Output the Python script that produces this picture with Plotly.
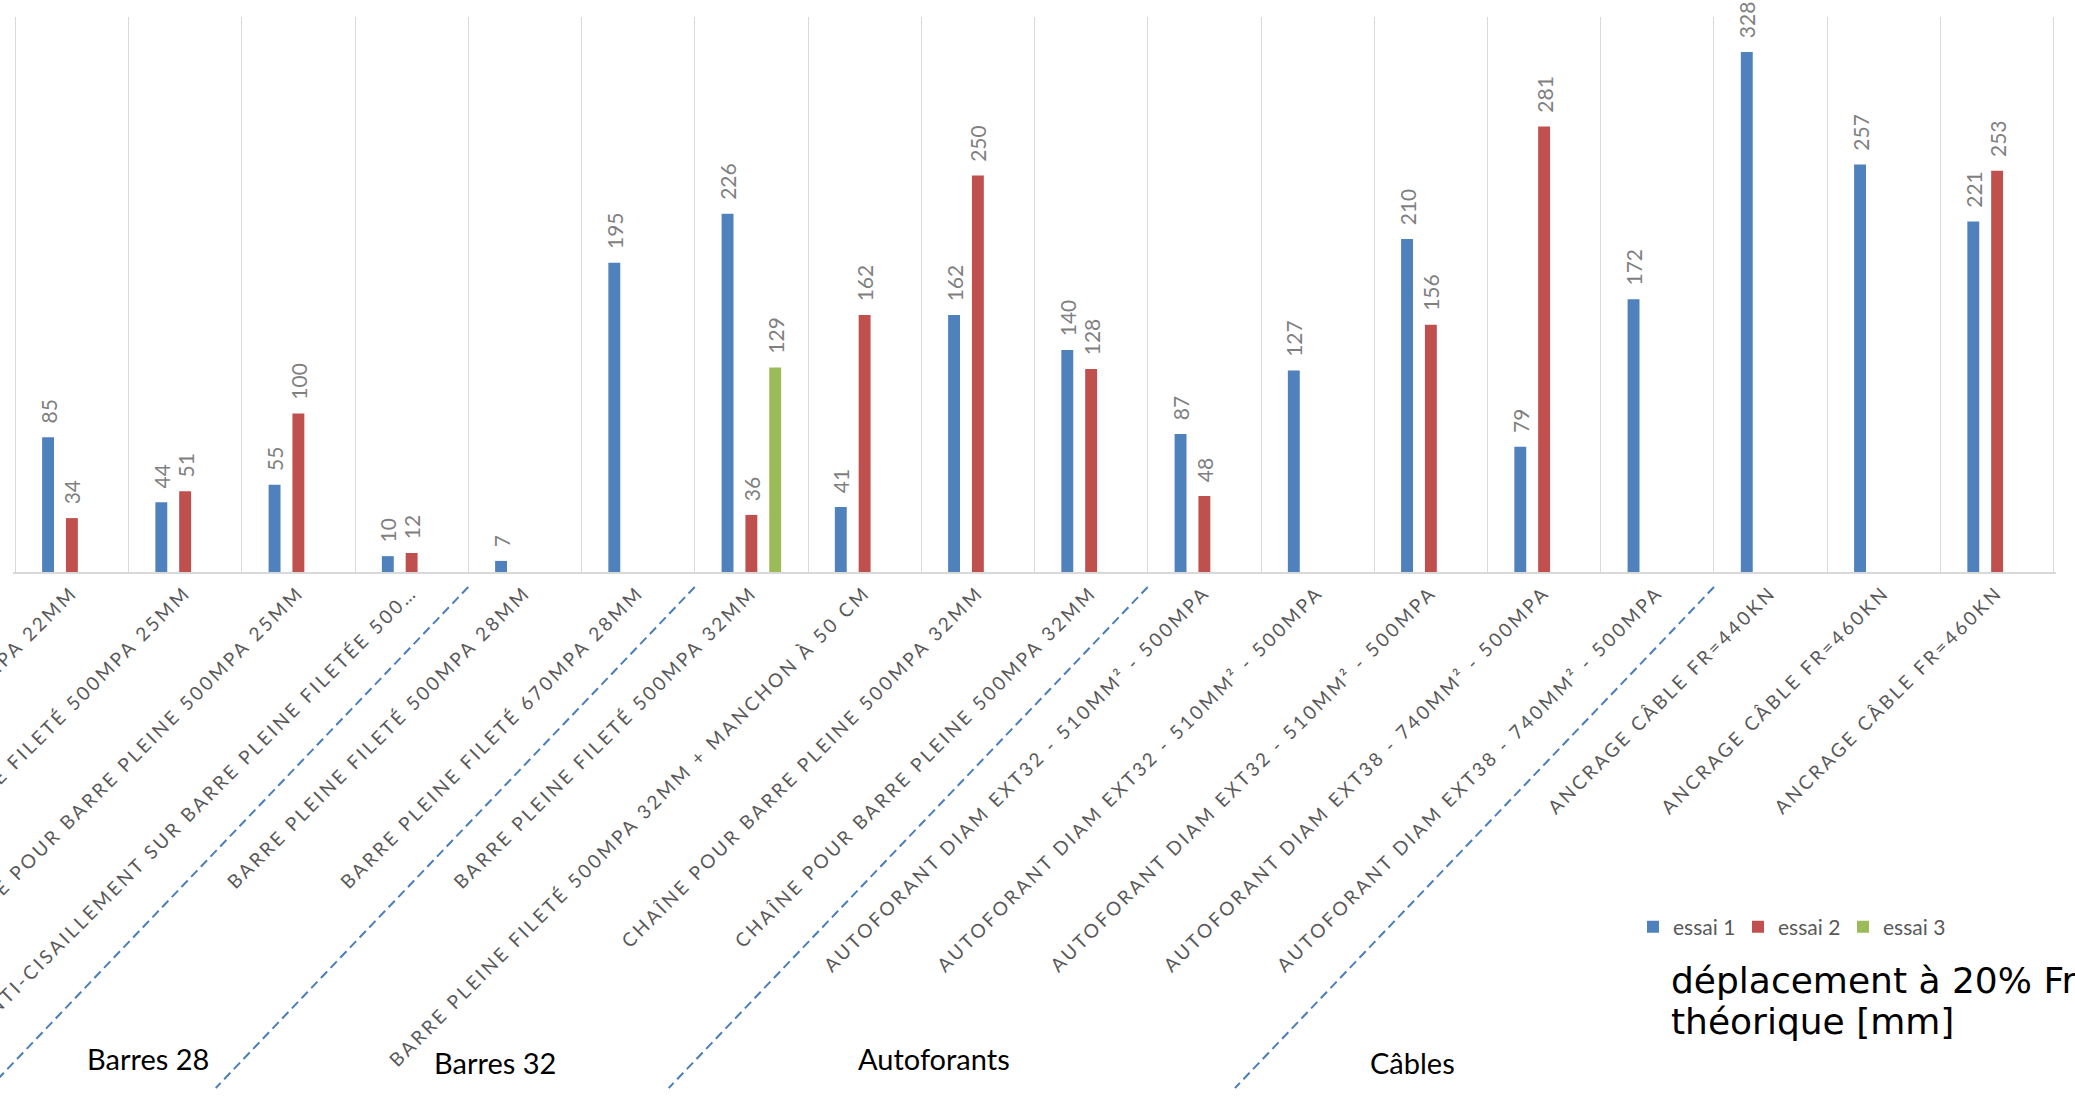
import plotly.graph_objects as go

# ---------------- data ----------------
categories = [
    "BARRE PLEINE FILETÉ 500MPA 22MM",
    "BARRE PLEINE FILETÉ 500MPA 25MM",
    "CHAÎNE POUR BARRE PLEINE 500MPA 25MM",
    "ANTI-CISAILLEMENT SUR BARRE PLEINE FILETÉE 500…",
    "BARRE PLEINE FILETÉ 500MPA 28MM",
    "BARRE PLEINE FILETÉ 670MPA 28MM",
    "BARRE PLEINE FILETÉ 500MPA 32MM",
    "BARRE PLEINE FILETÉ 500MPA 32MM + MANCHON À 50 CM",
    "CHAÎNE POUR BARRE PLEINE 500MPA 32MM",
    "CHAÎNE POUR BARRE PLEINE 500MPA 32MM",
    "AUTOFORANT DIAM EXT32 - 510MM² - 500MPA",
    "AUTOFORANT DIAM EXT32 - 510MM² - 500MPA",
    "AUTOFORANT DIAM EXT32 - 510MM² - 500MPA",
    "AUTOFORANT DIAM EXT38 - 740MM² - 500MPA",
    "AUTOFORANT DIAM EXT38 - 740MM² - 500MPA",
    "ANCRAGE CÂBLE FR=440KN",
    "ANCRAGE CÂBLE FR=460KN",
    "ANCRAGE CÂBLE FR=460KN",
]
essai1 = [85, 44, 55, 10, 7, 195, 226, 41, 162, 140, 87, 127, 210, 79, 172, 328, 257, 221]
essai2 = [34, 51, 100, 12, None, None, 36, 162, 250, 128, 48, None, 156, 281, None, None, None, 253]
essai3 = [None, None, None, None, None, None, 129, None, None, None, None, None, None, None, None, None, None, None]
series_names = ["essai 1", "essai 2", "essai 3"]
series_colors = ["#4F81BD", "#C0504D", "#9BBB59"]

group_names = ["Barres 28", "Barres 32", "Autoforants", "Câbles"]
group_separators = [4, 6, 10, 15]          # index of first category after each separator
group_label_x = [148, 495, 934, 1412]      # px centres of the text boxes
group_label_y = [1058, 1062, 1058, 1062]

title_lines = ["déplacement à 20% Fr", "théorique [mm]"]

# ---------------- layout constants ----------------
W, H = 2075, 1096
ML, MR, MT, MB = 13, 19, 17, 524
PW, PH = W - ML - MR, H - MT - MB
XR = [-0.52, len(categories) - 0.48]
YR = [0, 350]

positions = list(range(len(categories)))

fig = go.Figure()
for name, vals, col in zip(series_names, [essai1, essai2, essai3], series_colors):
    fig.add_trace(go.Bar(
        x=positions, y=vals, name=name,
        marker=dict(color=col, line=dict(width=0)),
        texttemplate="\u00a0\u00a0%{y}",
        textposition="outside", textangle=-90,
        textfont=dict(family="Lato", size=21, color="#7F7F7F"),
        constraintext="none", cliponaxis=False,
        hoverinfo="skip",
    ))

ticktext = ['<span style="letter-spacing:2.8px">' + c + '</span>' for c in categories]

fig.update_layout(
    width=W, height=H,
    margin=dict(l=ML, r=MR, t=MT, b=MB, autoexpand=False),
    paper_bgcolor="white", plot_bgcolor="white",
    barmode="group", bargap=0.369, bargroupgap=0.5,
    showlegend=True,
    legend=dict(
        orientation="h", xanchor="left", yanchor="middle",
        x=(1633 - ML) / PW, y=-(927 - (MT + PH)) / PH,
        font=dict(family="Lato", size=21, color="#595959"),
        bgcolor="rgba(0,0,0,0)", itemwidth=30, entrywidth=60,
        traceorder="normal",
    ),
    xaxis=dict(
        range=XR, tickmode="array", tickvals=positions, ticktext=ticktext,
        tickangle=-45, showgrid=False, zeroline=False,
        showline=True, linecolor="#D9D9D9", linewidth=2,
        ticks="", automargin=False, ticklabeloverflow="allow",
        tickfont=dict(family="Lato", size=19, color="#595959"),
        minor=dict(tickvals=[p - 0.5 for p in positions] + [positions[-1] + 0.5],
                   showgrid=True, gridcolor="#D9D9D9", gridwidth=1, ticks=""),
    ),
    yaxis=dict(range=YR, showgrid=False, zeroline=False, showline=False,
               showticklabels=False, ticks=""),
)

# group separators (dashed diagonal lines)
for k in group_separators:
    fx = (k - 0.5 - XR[0]) / (XR[1] - XR[0])
    fig.add_shape(type="line", xref="paper", yref="paper",
                  xsizemode="pixel", xanchor=fx, x0=0, x1=-479,
                  ysizemode="pixel", yanchor=0, y0=-15, y1=-516,
                  line=dict(color="#4A7EBB", width=2, dash="9px,5px"))

# group labels
for name, gx, gy in zip(group_names, group_label_x, group_label_y):
    fig.add_annotation(text=name, xref="paper", yref="paper",
                       x=(gx - ML) / PW, y=-(gy - (MT + PH)) / PH,
                       xanchor="center", yanchor="middle", showarrow=False,
                       font=dict(family="Lato", size=29, color="black"))

# title (two lines)
for i, line in enumerate(title_lines):
    cy = 980 + 41 * i
    fig.add_annotation(text=line, xref="paper", yref="paper",
                       x=(1669 - ML) / PW, y=-(cy - (MT + PH)) / PH,
                       xanchor="left", yanchor="middle", showarrow=False,
                       font=dict(family="DejaVu Sans", size=36, color="black"))

fig.write_html("out.html")
